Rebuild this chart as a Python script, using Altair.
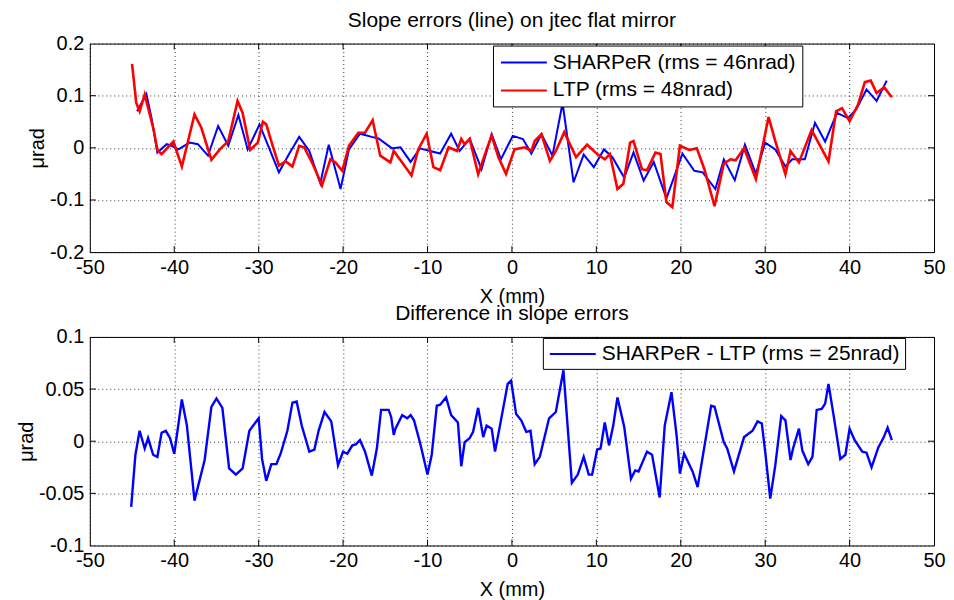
import altair as alt
import pandas as pd

# ---------------- data ----------------
sharper_x = [-44.4, -43.3, -42.7, -42.0, -40.9, -40.3, -39.5, -38.2, -37.2, -36.0, -34.8, -33.6,
             -32.4, -31.3, -29.9, -28.7, -27.6, -26.4, -25.2, -24.0, -22.7, -21.7, -20.3, -19.3,
             -18.0, -16.6, -15.8, -14.2, -13.2, -12.0, -10.9, -9.7, -8.5, -7.2, -6.2, -5.0, -3.6,
             -2.4, -1.3, 0.1, 1.3, 2.3, 3.5, 4.8, 6.0, 7.3, 8.5, 9.7, 10.9, 11.9, 13.3, 14.4, 15.6,
             16.8, 18.3, 20.2, 21.6, 22.6, 24.1, 25.1, 26.4, 27.6, 28.9, 30.0, 31.2, 32.4, 33.2,
             34.7, 35.9, 37.1, 38.5, 39.8, 40.8, 42.0, 43.2, 44.4]
sharper_y = [0.070, 0.103, 0.058, -0.009, 0.007, 0.004, -0.003, 0.010, 0.007, -0.015, 0.042, 0.004,
             0.063, -0.003, 0.045, -0.003, -0.047, -0.012, 0.021, -0.006, -0.068, 0.006, -0.079, -0.003,
             0.027, 0.021, 0.018, -0.001, 0.001, -0.027, -0.001, -0.006, -0.011, 0.027, -0.006, 0.017, -0.041,
             0.026, -0.022, 0.023, 0.017, -0.011, 0.026, -0.015, 0.086, -0.066, -0.013, -0.037, -0.003, -0.018, -0.057, -0.009, -0.063,
             -0.027, -0.097, -0.011, -0.044, -0.047, -0.079, -0.022, -0.062, 0.006, -0.050, 0.010, -0.003, -0.036, -0.022,
             -0.022, 0.048, 0.012, 0.067, 0.057, 0.074, 0.112, 0.090, 0.129]

ltp_x = [-45.0, -44.5, -44.1, -43.5, -42.8, -42.4, -42.0, -41.5, -40.1, -39.1, -37.6, -36.8, -35.6,
         -34.6, -33.6, -32.5, -31.9, -31.0, -30.1, -29.5, -29.1, -28.4, -27.6, -26.8, -26.0, -25.2,
         -24.6, -23.6, -22.5, -21.5, -20.9, -20.1, -19.3, -18.2, -17.4, -16.5, -15.6, -14.4, -14.0,
         -13.0, -11.9, -11.1, -10.1, -9.3, -8.5, -7.5, -6.5, -6.0, -5.6, -5.0, -4.0, -3.0, -2.4,
         -1.6, -0.7, 0.3, 1.5, 2.3, 2.7, 3.5, 4.5, 5.2, 6.2, 7.6, 8.9, 10.1, 11.0, 11.6, 12.5,
         13.2, 14.0, 14.4, 15.4, 16.0, 17.0, 17.6, 18.3, 19.0, 19.9, 21.0, 21.9, 22.8, 24.0, 25.1,
         25.9, 26.5, 27.5, 28.9, 30.4, 31.2, 32.4, 33.0, 34.0, 35.5, 37.5, 38.4, 39.1, 40.0, 41.0,
         41.8, 42.5, 43.2, 44.1, 45.0]
ltp_y = [0.161, 0.086, 0.070, 0.102, 0.058, 0.032, -0.004, -0.012, 0.012, -0.036, 0.064, 0.039, -0.023,
         -0.003, 0.013, 0.090, 0.067, -0.004, 0.010, 0.050, 0.045, 0.007, -0.034, -0.026, -0.036, 0.004,
         0.001, -0.031, -0.072, -0.022, -0.028, -0.044, 0.004, 0.029, 0.029, 0.053, -0.015, -0.028, -0.006,
         -0.028, -0.053, -0.003, 0.027, -0.037, -0.043, 0.001, -0.006, 0.017, 0.007, 0.017, -0.051, -0.003, 0.023,
         -0.018, -0.050, -0.003, 0.001, -0.006, 0.013, 0.026, -0.025, -0.006, 0.030, -0.018, 0.006, -0.012, -0.022, -0.012, -0.079,
         -0.069, 0.010, 0.013, -0.041, -0.043, -0.009, -0.012, -0.104, -0.114, 0.004, -0.004, -0.001, -0.041, -0.112, -0.030,
         -0.022, -0.024, -0.001, -0.060, 0.059, 0.013, -0.051, -0.006, -0.028, 0.034, -0.026, 0.070, 0.076, 0.051, 0.083,
         0.126, 0.129, 0.105, 0.116, 0.097]

diff_x = [-45.1, -44.6, -44.1, -43.5, -43.1, -42.5, -42.0, -41.5, -41.0, -40.5, -40.0, -39.7, -39.1,
          -38.5, -37.6, -36.4, -35.6, -35.0, -34.3, -33.5, -32.7, -31.9, -31.1, -30.0, -29.6, -29.1,
          -28.5, -27.9, -27.4, -26.6, -26.0, -25.5, -24.9, -24.0, -23.4, -22.9, -22.2, -21.4, -20.6,
          -20.0, -19.5, -18.9, -18.5, -18.0, -17.4, -16.6, -16.0, -15.5, -14.6, -14.3, -14.0, -13.8,
          -13.0, -12.4, -12.0, -11.6, -10.9, -10.0, -9.5, -8.9, -8.5, -7.8, -7.2, -6.4, -6.0, -5.6,
          -5.0, -4.6, -4.0, -3.4, -3.0, -2.4, -2.0, -1.3, -0.5, -0.1, 0.5, 1.1, 1.7, 2.2, 2.7, 3.3,
          4.4, 5.2, 6.1, 7.1, 7.8, 8.5, 9.1, 9.5, 10.1, 10.5, 11.0, 11.5, 12.0, 12.5, 13.3, 14.1,
          14.6, 15.0, 16.0, 16.6, 17.5, 18.1, 18.9, 19.5, 19.9, 20.4, 21.4, 22.0, 23.6, 24.0, 25.1,
          25.5, 26.3, 27.5, 28.5, 29.1, 29.6, 30.0, 30.6, 31.2, 31.9, 32.4, 33.0, 33.3, 34.0, 34.4,
          35.1, 35.6, 36.1, 36.7, 37.1, 37.5, 38.1, 38.9, 39.5, 40.0, 40.6, 41.5, 42.0, 42.6, 43.4,
          44.0, 44.5, 45.0]
diff_y = [-0.063, -0.013, 0.010, -0.007, 0.003, -0.013, -0.015, 0.008, 0.010, 0.003, -0.012, 0.005, 0.040,
          0.015, -0.057, -0.018, 0.033, 0.041, 0.032, -0.026, -0.032, -0.026, 0.010, 0.022, -0.017, -0.038,
          -0.022, -0.022, -0.012, 0.010, 0.037, 0.038, 0.015, -0.010, -0.008, 0.010, 0.028, 0.019, -0.023,
          -0.010, -0.012, -0.004, -0.003, 0.001, -0.010, -0.033, -0.007, 0.030, 0.030, 0.023, 0.006, 0.012,
          0.025, 0.022, 0.025, 0.020, -0.001, -0.032, -0.013, 0.034, 0.035, 0.042, 0.025, 0.018, -0.024, -0.001,
          0.003, 0.009, 0.032, 0.004, 0.015, 0.012, -0.010, 0.020, 0.055, 0.058, 0.026, 0.020, 0.009, 0.010, -0.022, -0.015,
          0.022, 0.028, 0.068, -0.040, -0.032, -0.015, -0.032, -0.032, -0.008, -0.007, 0.018, -0.004, 0.015, 0.042, 0.014, -0.036,
          -0.028, -0.029, -0.010, -0.013, -0.054, 0.015, 0.047, 0.006, -0.031, -0.012, -0.029, -0.044, 0.034, 0.033, -0.001,
          -0.007, -0.029, 0.004, 0.010, 0.019, 0.017, -0.010, -0.055, -0.023, 0.024, 0.020, -0.018, -0.007, 0.012, -0.009,
          -0.022, -0.015, 0.030, 0.031, 0.036, 0.055, 0.025, -0.017, -0.013, 0.012, 0.001, -0.010, -0.011, -0.025, -0.006,
          0.003, 0.013, 0.001]

top_title = "Slope errors (line) on jtec flat mirror"
bottom_title = "Difference in slope errors"
sharper_label = "SHARPeR (rms = 46nrad)"
ltp_label = "LTP (rms = 48nrad)"
diff_label = "SHARPeR - LTP (rms = 25nrad)"
x_ticks = [-50, -40, -30, -20, -10, 0, 10, 20, 30, 40, 50]
top_y_ticks = [-0.2, -0.1, 0, 0.1, 0.2]
bottom_y_ticks = [-0.1, -0.05, 0, 0.05, 0.1]

# ---------------- tables ----------------
top_df = pd.concat([
    pd.DataFrame({"x": sharper_x, "y": sharper_y, "series": sharper_label}),
    pd.DataFrame({"x": ltp_x, "y": ltp_y, "series": ltp_label}),
], ignore_index=True)
diff_df = pd.DataFrame({"x": diff_x, "y": diff_y, "series": diff_label})

W, H = 846, 209
FONT = "Liberation Sans"
FS = 20
TFS = 21
LABEL = "toString(datum.value)"
LEG_PATH = "M-0.9,0H3.7"   # 46 px line sample drawn from the legend symbol slot

x_scale = alt.Scale(domain=[-50, 50], nice=False, zero=False)


def x_axis():
    return alt.Axis(values=x_ticks, title="X (mm)", labelExpr=LABEL, grid=True,
                    labelFlush=False, labelOverlap=False, labelPadding=5, titlePadding=9)


def y_axis(vals):
    return alt.Axis(values=vals, title="\u03bcrad", labelExpr=LABEL, grid=True,
                    labelOverlap=False, labelFlush=False, labelPadding=6, titlePadding=2)


def tick_layers(yvals, ys):
    xt = pd.DataFrame({"t": x_ticks[1:-1]})
    yt = pd.DataFrame({"t": yvals[1:-1]})
    base_x = alt.Chart(xt).mark_rule(color="black", strokeWidth=1)
    base_y = alt.Chart(yt).mark_rule(color="black", strokeWidth=1)
    xe = alt.X("t:Q", scale=x_scale, axis=x_axis())
    ye = alt.Y("t:Q", scale=ys, axis=y_axis(yvals))
    return [
        base_x.encode(x=xe, y=alt.value(0), y2=alt.value(6)),
        base_x.encode(x=xe, y=alt.value(H - 6), y2=alt.value(H)),
        base_y.encode(y=ye, x=alt.value(0), x2=alt.value(6)),
        base_y.encode(y=ye, x=alt.value(W - 6), x2=alt.value(W)),
    ]


def legend(x, y, pad, rowpad):
    return alt.Legend(title=None, orient="none", legendX=x, legendY=y,
                      symbolType=LEG_PATH, symbolSize=400, symbolStrokeWidth=2,
                      labelFontSize=TFS, labelFont=FONT, labelColor="black",
                      strokeColor="black", fillColor="white", padding=pad,
                      rowPadding=rowpad, labelOffset=32, labelLimit=400)


top_scale_y = alt.Scale(domain=[-0.2, 0.2], nice=False, zero=False)
top_base = alt.Chart(top_df).encode(
    x=alt.X("x:Q", scale=x_scale, axis=x_axis()),
    y=alt.Y("y:Q", scale=top_scale_y, axis=y_axis(top_y_ticks)),
    color=alt.Color("series:N",
                    scale=alt.Scale(domain=[sharper_label, ltp_label], range=["#0000ff", "#ff0000"]),
                    legend=legend(404, 2, 6, 7)),
)
top_blue = top_base.transform_filter(alt.datum.series == sharper_label).mark_line(strokeWidth=2)
top_red = top_base.transform_filter(alt.datum.series == ltp_label).mark_line(strokeWidth=2.6)

top = alt.layer(*tick_layers(top_y_ticks, top_scale_y), top_blue, top_red).properties(
    width=W, height=H,
    title=alt.TitleParams(top_title, fontSize=TFS, font=FONT, fontWeight="normal", color="black", offset=3),
)

bot_scale_y = alt.Scale(domain=[-0.1, 0.1], nice=False, zero=False)
bot_line = alt.Chart(diff_df).mark_line(strokeWidth=2.4).encode(
    x=alt.X("x:Q", scale=x_scale, axis=x_axis()),
    y=alt.Y("y:Q", scale=bot_scale_y, axis=y_axis(bottom_y_ticks)),
    color=alt.Color("series:N", scale=alt.Scale(domain=[diff_label], range=["#0000ff"]),
                    legend=legend(454, 1, 5, 0)),
)
bottom = alt.layer(*tick_layers(bottom_y_ticks, bot_scale_y), bot_line).properties(
    width=W, height=H,
    title=alt.TitleParams(bottom_title, fontSize=TFS, font=FONT, fontWeight="normal", color="black", offset=3),
)

chart = alt.vconcat(top, bottom, spacing=-5).resolve_scale(color="independent", y="independent").configure_view(
    stroke="black", strokeWidth=1
).configure_axis(
    domain=False, ticks=False, labelFont=FONT, labelFontSize=FS, labelColor="black",
    titleFont=FONT, titleFontSize=FS, titleFontWeight="normal", titleColor="black",
    gridColor="#000000", gridDash=[1, 3], gridWidth=1, gridOpacity=0.8,
).properties(
    padding={"left": 7, "top": 0, "right": 0, "bottom": 0},
    background="white",
)

chart.save("out.html", embed_options={"renderer": "svg", "actions": False})
